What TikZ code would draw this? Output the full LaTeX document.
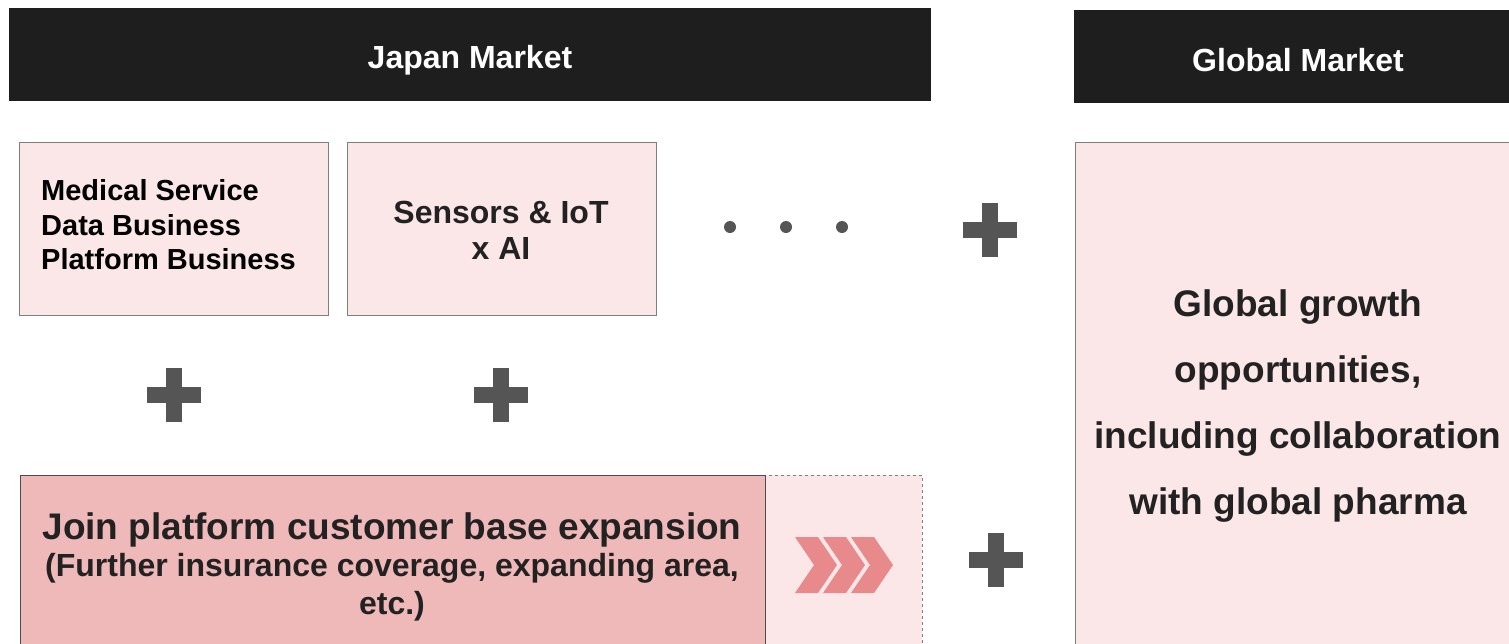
\documentclass[tikz,border=0pt]{standalone}
\usepackage{fontspec}
\setmainfont{Liberation Sans}
\begin{document}
\begin{tikzpicture}[x=1pt,y=-1pt,
  header/.style={draw=none,text=white,font=\bfseries\fontsize{32}{36}\selectfont,anchor=base,inner sep=0pt},
  pinkbox/.style={fill=lpink,draw=bordergray,line width=1pt},
  plussign/.style={fill=plusgray,draw=none},
  dot/.style={circle,fill=plusgray,draw=none,inner sep=0pt,minimum size=12pt},
  chev/.style={fill=chevc,draw=none},
  boxtext/.style={text=black,font=\bfseries\fontsize{29}{34.5}\selectfont,inner sep=0pt}
]
\definecolor{hdr}{HTML}{1E1E1E}
\definecolor{lpink}{HTML}{FBE7E7}
\definecolor{dpink}{HTML}{EFB8B9}
\definecolor{bordergray}{HTML}{7F7F7F}
\definecolor{plusgray}{HTML}{555555}
\definecolor{chevc}{HTML}{E8898B}
\definecolor{txt}{HTML}{222222}
\useasboundingbox (0,0) rectangle (1509,643);
\clip (0,0) rectangle (1509,643);
\fill[white] (0,0) rectangle (1509,643);

% headers
\fill[hdr] (9,8) rectangle (931,101);
\node[header] (japan) at (470,68) {Japan Market};
\fill[hdr] (1074,10) rectangle (1520,103);
\node[header] (global) at (1298,71) {Global Market};

% top boxes
\draw[pinkbox] (19,142) rectangle (328,315);
\node[boxtext,anchor=west,align=left] (medical) at (41,225) {Medical Service\\Data Business\\Platform Business};
\draw[pinkbox] (347,142) rectangle (656,315);
\node[boxtext,align=center,text=txt,font=\bfseries\fontsize{32}{36}\selectfont] (sensors) at (501,230) {Sensors \& IoT\\x AI};

% dots
\node[dot] (d1) at (730,227) {};
\node[dot] (d2) at (786,227) {};
\node[dot] (d3) at (842,227) {};

% plus signs
\foreach \n/\cx/\cy in {p1/990/230, p2/174/395, p3/501/395, p4/996/560}{
  \coordinate (\n) at (\cx,\cy);
  \fill[plussign] ([shift={(-27,-8)}]\n) rectangle ([shift={(27,8)}]\n);
  \fill[plussign] ([shift={(-8,-27)}]\n) rectangle ([shift={(8,27)}]\n);
}

% dashed light region
\fill[lpink] (637,475) rectangle (922,660);
\draw[bordergray,dashed,line width=0.8pt] (637,475) -- (922,475) -- (922,660);

% big box
\draw[fill=dpink,draw=black!70,line width=1pt] (20,475) rectangle (765,660);
\node[text=txt,font=\bfseries\fontsize{37}{40}\selectfont,inner sep=0pt,anchor=base] (join) at (392,539) {Join platform customer base expansion};
\node[text=txt,font=\bfseries\fontsize{32}{38}\selectfont,inner sep=0pt,anchor=base] (further) at (392,576) {(Further insurance coverage, expanding area,};
\node[text=txt,font=\bfseries\fontsize{32}{38}\selectfont,inner sep=0pt,anchor=base] (etc) at (392,614) {etc.)};

% chevrons
\foreach \sx in {795,823,851}{
  \fill[chev] (\sx,537) -- (\sx+23,537) -- (\sx+42,565) -- (\sx+23,593) -- (\sx,593) -- (\sx+19,565) -- cycle;
}

% global box
\draw[pinkbox] (1075,142) rectangle (1530,660);
\node[text=txt,font=\bfseries\fontsize{37}{66}\selectfont,align=center,inner sep=0pt] (gtext) at (1298,406) {Global growth\\opportunities,\\including collaboration\\with global pharma};
\end{tikzpicture}
\end{document}
